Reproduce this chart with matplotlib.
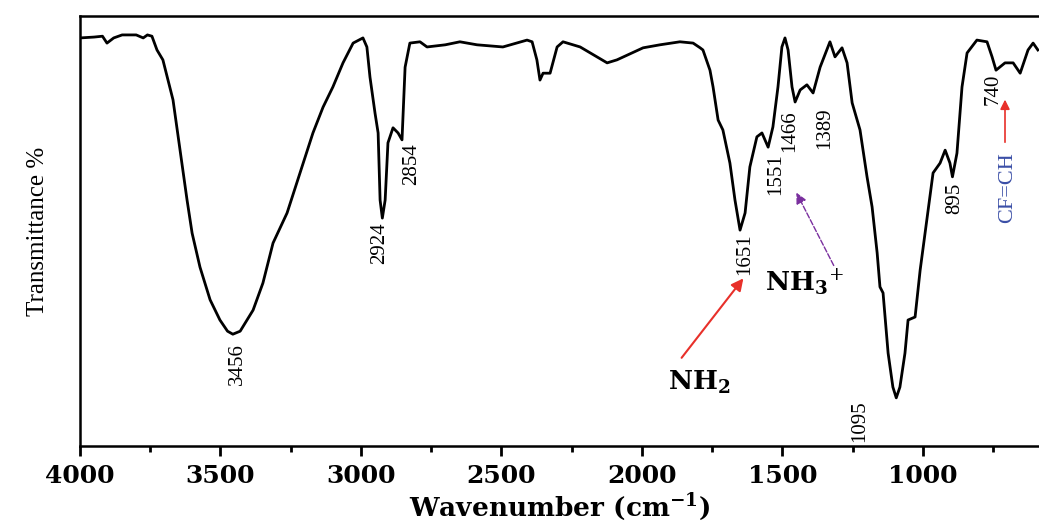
import matplotlib
matplotlib.use("Agg")
import matplotlib.pyplot as plt
from matplotlib.ticker import MultipleLocator

plt.rcParams['mathtext.fontset'] = 'dejavuserif'

# FTIR spectrum (wavenumber cm^-1, transmittance %)
wavenumber = [4000, 3950, 3920, 3904, 3880, 3850, 3800, 3775, 3760, 3744, 3726, 3705, 3687, 3669,
              3644, 3619, 3601, 3573, 3537, 3502, 3475, 3456, 3430, 3384, 3349, 3313, 3263, 3217,
              3171, 3135, 3100, 3064, 3028, 2993, 2979, 2968, 2950, 2939, 2932, 2924, 2914, 2904,
              2886, 2868, 2854, 2843, 2826, 2790, 2765, 2700, 2648, 2587, 2495, 2409, 2391, 2374,
              2363, 2352, 2327, 2302, 2281, 2220, 2124, 2089, 1996, 1936, 1865, 1818, 1793, 1783,
              1758, 1747, 1729, 1712, 1687, 1669, 1651, 1633, 1616, 1591, 1573, 1551, 1534, 1516,
              1502, 1491, 1480, 1466, 1455, 1437, 1413, 1391, 1366, 1331, 1313, 1288, 1270, 1252,
              1224, 1199, 1181, 1163, 1153, 1142, 1124, 1107, 1095, 1082, 1064, 1053, 1028, 1010,
              986, 964, 939, 921, 904, 895, 879, 861, 843, 808, 772, 754, 740, 708, 679, 654, 626,
              608, 591]
transmittance = [94.9, 95.1, 95.3, 93.7, 94.9, 95.6, 95.6, 94.9, 95.6, 95.3, 92.1, 89.8, 85.1, 80.5,
                 68.8, 57.2, 49.5, 41.6, 34.0, 29.3, 26.7, 26.0, 26.7, 31.6, 37.9, 47.2, 54.2, 63.5,
                 72.8, 78.8, 83.5, 89.1, 93.7, 94.9, 92.8, 85.8, 77.4, 72.8, 57.2, 53.0, 57.2, 70.5,
                 74.0, 72.8, 71.2, 88.1, 93.7, 94.0, 92.8, 93.3, 94.0, 93.3, 92.8, 94.4, 94.0, 89.8,
                 85.1, 86.7, 86.7, 92.8, 94.0, 92.8, 89.1, 89.8, 92.6, 93.3, 94.0, 93.7, 92.6, 92.1,
                 87.4, 83.5, 75.8, 73.5, 65.8, 57.2, 50.2, 54.2, 64.9, 71.9, 72.8, 69.5, 74.2, 83.5,
                 92.8, 94.9, 92.1, 83.5, 80.0, 82.8, 84.0, 82.1, 88.1, 94.0, 90.5, 92.6, 89.1, 79.8,
                 73.5, 62.6, 55.6, 44.9, 37.0, 35.6, 21.6, 13.7, 11.2, 13.7, 21.6, 29.3, 30.0, 40.9,
                 52.6, 63.5, 65.8, 68.8, 65.8, 62.6, 68.1, 83.5, 91.4, 94.4, 94.0, 90.5, 87.4, 89.1,
                 89.1, 86.7, 92.1, 93.7, 92.1]

# Peak labels: text, label x (cm^-1), label top (T %)
peak_labels = ["3456", "2924", "2854", "1651", "1551", "1466", "1389", "1095", "895", "740"]
peak_label_x = [3441, 2932, 2818, 1633, 1523, 1473, 1349, 1224, 886, 751]
peak_label_top = [24.0, 51.9, 70.5, 49.5, 68.1, 78.1, 78.8, 10.7, 61.2, 86.7]

fig = plt.figure(figsize=(10.39, 5.23), dpi=100)
ax = fig.add_axes([80/1039, 77/523, 959/1039, 430/523])

ax.plot(wavenumber, transmittance, color='black', lw=2.0)
ax.set_xlim(4000, 587)
ax.set_ylim(0, 100)

ax.xaxis.set_major_locator(MultipleLocator(500))
ax.xaxis.set_minor_locator(MultipleLocator(250))
ax.tick_params(axis='x', which='major', direction='out', length=7, width=2, pad=6)
ax.tick_params(axis='x', which='minor', direction='out', length=4, width=2)
ax.set_yticks([])
for lbl in ax.get_xticklabels():
    lbl.set_fontfamily('DejaVu Serif')
    lbl.set_fontweight('bold')
    lbl.set_fontsize(18)
ax.spines['right'].set_visible(False)
for s in ['left', 'top', 'bottom']:
    ax.spines[s].set_linewidth(1.8)

ax.set_xlabel(r"Wavenumber (cm$^{\mathbf{-1}}$)", fontfamily='DejaVu Serif',
              fontweight='bold', fontsize=19, labelpad=2)
ax.set_ylabel("Transmittance %", fontfamily='Liberation Serif', fontsize=18, labelpad=22)

for t, x, y in zip(peak_labels, peak_label_x, peak_label_top):
    ax.text(x, y, t, rotation=90, ha='center', va='top', fontfamily='Liberation Serif',
            fontsize=15)

# CF=CH label with arrow
ax.text(697, 60.2, "CF=CH", rotation=90, ha='center', va='center', color='#3a4ea6',
        fontfamily='Liberation Serif', fontsize=16)
ax.annotate("", xy=(708, 81.2), xytext=(708, 70.0),
            arrowprops=dict(arrowstyle='-|>', color='#e8302a', lw=1.2, mutation_scale=14))

# NH2 label with arrow
ax.text(1907, 13.0, r"$\mathbf{NH_2}$", ha='left', va='baseline', fontsize=19)
ax.annotate("", xy=(1633, 39.5), xytext=(1865, 20.0),
            arrowprops=dict(arrowstyle='-|>', color='#e8302a', lw=1.5, mutation_scale=18))

# NH3+ label with arrow
ax.text(1562, 35.8, r"$\mathbf{NH_3}^{+}$", ha='left', va='baseline', fontsize=19)
ax.annotate("", xy=(1455, 59.5), xytext=(1313, 41.4),
            arrowprops=dict(arrowstyle='-|>', color='#7a2f9e', lw=1.0, ls=(0, (4, 1.5)),
                            mutation_scale=16))

fig.savefig("out.png", dpi=100)
